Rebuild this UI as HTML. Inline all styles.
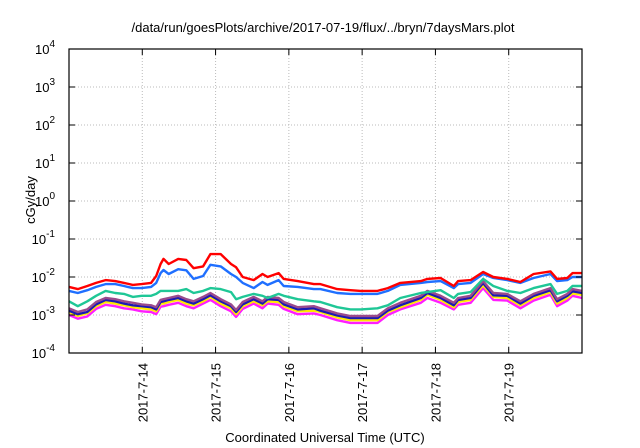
<!DOCTYPE html>
<html><head><meta charset="utf-8"><style>
body{margin:0;background:#fff;}
svg{display:block;font-family:"Liberation Sans",sans-serif;}
</style></head><body>
<svg id="chart" width="640" height="448" viewBox="0 0 640 448">
<text x="323" y="32" font-size="13" text-anchor="middle">/data/run/goesPlots/archive/2017-07-19/flux/../bryn/7daysMars.plot</text>
<text transform="translate(35,200) rotate(-90)" font-size="13" text-anchor="middle">cGy/day</text>
<text x="325" y="442" font-size="13" text-anchor="middle">Coordinated Universal Time (UTC)</text>
<g id="grid"></g><g id="series"></g><g id="axes"></g>
</svg>
<script>
const times=[13.00,13.12,13.25,13.37,13.50,13.63,13.75,13.87,13.99,14.12,14.19,14.25,14.29,14.36,14.49,14.60,14.70,14.83,14.93,15.07,15.21,15.28,15.37,15.52,15.64,15.71,15.86,15.93,16.12,16.34,16.43,16.66,16.84,16.98,17.21,17.35,17.52,17.80,17.89,18.07,18.25,18.31,18.48,18.65,18.79,18.98,19.16,19.34,19.57,19.66,19.80,19.87,20.00];
const seriesRed=[0.0055,0.0048,0.0058,0.0070,0.0083,0.0078,0.0070,0.0062,0.0065,0.0070,0.0106,0.022,0.030,0.022,0.030,0.028,0.017,0.019,0.040,0.040,0.022,0.018,0.010,0.0083,0.012,0.010,0.0127,0.0089,0.0078,0.0065,0.0065,0.0048,0.0045,0.0043,0.0043,0.0051,0.0070,0.0078,0.0089,0.0094,0.0058,0.0078,0.0083,0.0135,0.010,0.0089,0.0074,0.012,0.014,0.0089,0.0094,0.0127,0.0127];
const seriesBlue=[0.0043,0.0038,0.0045,0.0055,0.0065,0.0065,0.0058,0.0051,0.0051,0.0055,0.0070,0.0127,0.0153,0.012,0.016,0.015,0.0089,0.0106,0.021,0.019,0.012,0.010,0.0070,0.0051,0.0074,0.0062,0.0083,0.0058,0.0055,0.0048,0.0048,0.0038,0.0036,0.0036,0.0036,0.0043,0.0062,0.0070,0.0074,0.0078,0.0051,0.0065,0.0070,0.012,0.0094,0.0083,0.0070,0.0094,0.012,0.0078,0.0083,0.010,0.010];
const seriesTeal=[0.0023,0.0017,0.0023,0.0032,0.0043,0.0038,0.0036,0.0030,0.0032,0.0032,0.0036,0.0043,0.0043,0.0043,0.0043,0.0048,0.0038,0.0043,0.0051,0.0048,0.0040,0.0026,0.0030,0.0036,0.0032,0.0028,0.0036,0.0032,0.0026,0.0023,0.0022,0.0016,0.0014,0.0014,0.0015,0.0018,0.0028,0.0038,0.0040,0.0045,0.0028,0.0036,0.0040,0.0089,0.0058,0.0043,0.0038,0.0051,0.0065,0.0036,0.0043,0.0058,0.0058];
const seriesPurple=[0.0015,0.0012,0.0014,0.0022,0.0028,0.0026,0.0023,0.0021,0.0019,0.0018,0.0016,0.0025,0.0026,0.0028,0.0032,0.0026,0.0023,0.0030,0.0038,0.0026,0.0019,0.00135,0.0022,0.0030,0.0023,0.0030,0.0028,0.0022,0.0016,0.0017,0.0015,0.0011,0.00094,0.00094,0.00094,0.0015,0.0021,0.0032,0.0043,0.0032,0.0021,0.0028,0.0032,0.0078,0.0038,0.0036,0.0023,0.0036,0.0051,0.0026,0.0036,0.0048,0.0043];
const seriesNavy=[0.0013,0.00105,0.0012,0.0019,0.0025,0.0023,0.0020,0.0018,0.0017,0.0016,0.0014,0.0022,0.0023,0.0025,0.0028,0.0023,0.0020,0.0026,0.0033,0.0023,0.0017,0.0012,0.0019,0.0026,0.0020,0.0026,0.0025,0.0019,0.0014,0.0015,0.0013,0.00097,0.00083,0.00083,0.00083,0.0013,0.0018,0.0028,0.0038,0.0028,0.0018,0.0025,0.0028,0.0069,0.0033,0.0032,0.0020,0.0032,0.0045,0.0023,0.0032,0.0042,0.0038];
const seriesYellow=[0.0012,0.00094,0.0011,0.0017,0.0022,0.0020,0.0018,0.0016,0.0015,0.0014,0.00125,0.0020,0.0020,0.0022,0.0025,0.0020,0.0018,0.0023,0.0030,0.0020,0.0015,0.00105,0.0017,0.0023,0.0018,0.0023,0.0022,0.0017,0.00125,0.0013,0.0012,0.00086,0.00073,0.00073,0.00073,0.0012,0.0016,0.0025,0.0034,0.0025,0.0016,0.0022,0.0025,0.0061,0.0030,0.0028,0.0018,0.0028,0.0040,0.0020,0.0028,0.0037,0.0034];
const seriesMagenta=[0.0010,0.0008,0.00092,0.00145,0.00185,0.0017,0.0015,0.0014,0.00125,0.0012,0.00105,0.00165,0.0017,0.00185,0.0021,0.0017,0.0015,0.0020,0.0025,0.0017,0.00125,0.00089,0.00145,0.0020,0.0015,0.0020,0.00185,0.00145,0.00105,0.0011,0.0010,0.00073,0.00062,0.00062,0.00062,0.0010,0.0014,0.0021,0.0028,0.0021,0.0014,0.00185,0.0021,0.0051,0.0025,0.0024,0.0015,0.0024,0.0034,0.0017,0.0024,0.0032,0.0028];
const yExps=[-4,-3,-2,-1,0,1,2,3,4];
const xTickDays=[14,15,16,17,18,19];
const xTickLabels=["2017-7-14","2017-7-15","2017-7-16","2017-7-17","2017-7-18","2017-7-19"];

const L=69,R=582,T=49,B=353,X0=13,X1=20;
const NS="http://www.w3.org/2000/svg";
function xs(t){return L+(t-X0)/(X1-X0)*(R-L);}
function ys(v){return B-(Math.log10(v)+4)/8*(B-T);}
function mk(tag,attrs,parent){const e=document.createElementNS(NS,tag);for(const k in attrs)e.setAttribute(k,attrs[k]);parent.appendChild(e);return e;}
const grid=document.getElementById('grid'),axes=document.getElementById('axes'),ser=document.getElementById('series');

yExps.forEach(p=>{
  const y=ys(Math.pow(10,p));
  if(p>-4&&p<4){const g=mk('line',{x1:L,x2:R,y1:y,y2:y,stroke:'#bbb','stroke-width':1,'stroke-dasharray':'1,2'},grid);
  
  }
  const t1=mk('line',{x1:L,x2:L+6,y1:y,y2:y,stroke:'#000'},axes);
  
  
  const t2=mk('line',{x1:R-6,x2:R,y1:y,y2:y,stroke:'#000'},axes);
  
  
  const tx=mk('text',{x:L-14,y:y+5,'font-size':13,'text-anchor':'end'},axes);
  
  
  tx.textContent='10';
  const sp=mk('tspan',{dy:-7,'font-size':10},tx);sp.textContent=String(p);
});
xTickDays.forEach((d,i)=>{
  const x=xs(d);
  const g=mk('line',{x1:x,x2:x,y1:T,y2:B,stroke:'#bbb','stroke-width':1,'stroke-dasharray':'1,2'},grid);
  
  
  const t1=mk('line',{x1:x,x2:x,y1:B-6,y2:B,stroke:'#000'},axes);
  
  
  const t2=mk('line',{x1:x,x2:x,y1:T,y2:T+6,stroke:'#000'},axes);
  
  
  const tx=mk('text',{transform:`translate(${x+5},${B+10}) rotate(-90)`,'font-size':13,'text-anchor':'end'},axes);
  
  
  tx.textContent=xTickLabels[i];
});
const fr=mk('rect',{x:L,y:T,width:R-L,height:B-T,fill:'none',stroke:'#000','stroke-width':1.2},axes);



const defs=[[seriesMagenta,'#ff1eff','series-magenta'],[seriesYellow,'#ffe800','series-yellow'],[seriesNavy,'#1a1ab4','series-navy'],[seriesPurple,'#9a4a8c','series-purple'],[seriesTeal,'#1fc796','series-teal'],[seriesBlue,'#1f6fff','series-blue'],[seriesRed,'#ff0000','series-red']];
defs.forEach(([vals,col,name])=>{
  const d=vals.map((v,i)=>(i?'L':'M')+xs(times[i]).toFixed(1)+','+ys(v).toFixed(1)).join('');
  const p=mk('path',{d:d,fill:'none',stroke:col,'stroke-width':2.4,'stroke-linejoin':'round'},ser);
  
  
});
</script>
</body></html>
